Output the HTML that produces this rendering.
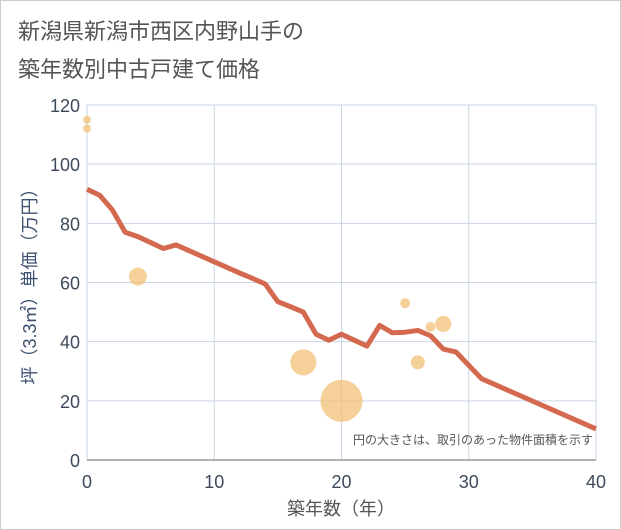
<!DOCTYPE html>
<html><head><meta charset="utf-8"><style>
body{margin:0;background:#fff;}
svg{display:block;font-family:"Liberation Sans","Noto Sans CJK JP",sans-serif;}
</style></head><body>
<svg width="621" height="530">
<rect x="0.5" y="0.5" width="620" height="529" fill="#fff" stroke="#ccc"/>
<text x="18" y="39" font-size="22" fill="#555">新潟県新潟市西区内野山手の</text>
<text x="18" y="77" font-size="22" fill="#555">築年数別中古戸建て価格</text>
<g id="grid"></g>
<g id="ticks"></g>
<g id="bubbles"></g>
<g id="line"></g>
<text x="593" y="444" font-size="12" fill="#555" text-anchor="end">円の大きさは、取引のあった物件面積を示す</text>
<text x="341" y="515" font-size="18" fill="#555" text-anchor="middle">築年数（年）</text>
<text transform="translate(36,282) rotate(-90)" font-size="18" fill="#3d5170" text-anchor="middle">坪（3.3㎡）単価（万円）</text>
</svg>
<script>
const xTicks=[0,10,20,30,40];
const yTicks=[0,20,40,60,80,100,120];
const lineX=[0,1,2,3,4,5,6,7,8,9,10,11,12,13,14,15,16,17,18,19,20,21,22,23,24,25,26,27,28,29,30,31,40];
const lineY=[91.5,89.5,84.5,77,75.5,73.5,71.5,72.7,70.8,68.9,67,65.1,63.2,61.4,59.5,53.5,51.8,50,42.5,40.5,42.5,40.5,38.5,45.5,43,43.2,43.8,42,37.5,36.5,32,27.5,10.5];
const bubX=[0,0,4,17,20,25,26,27,28];
const bubY=[115,112,62,33,20,53,33,45,46];
const bubR=[4,4,9,13,21,5,7,5,8];
const NS="http://www.w3.org/2000/svg";
const X0=87,X1=596,Y0=460,Y1=105;
const sx=v=>X0+(X1-X0)*v/40, sy=v=>Y0-(Y0-Y1)*v/120;
const grid=document.getElementById('grid'),ticks=document.getElementById('ticks');
function mk(t,a,p){const e=document.createElementNS(NS,t);for(const k in a)e.setAttribute(k,a[k]);p.appendChild(e);return e;}
xTicks.forEach(v=>{
 const l=mk('line',{x1:sx(v),x2:sx(v),y1:Y1,y2:Y0,stroke:'#c9d5e4','stroke-width':1},grid);
 
 
 const t=mk('text',{x:sx(v),y:488,'font-size':18,fill:'#3d4a5c','text-anchor':'middle'},ticks);
 t.textContent=v;
 
 
});
yTicks.forEach(v=>{
 const l=mk('line',{x1:X0,x2:X1,y1:sy(v),y2:sy(v),stroke:v===0?'#999':'#c9d5e4','stroke-width':v===0?1.5:1},grid);
 
 
 const t=mk('text',{x:80,y:sy(v)+7,'font-size':18,fill:'#3d4a5c','text-anchor':'end'},ticks);
 t.textContent=v;
 
 
});
const bg=document.getElementById('bubbles');
bubX.forEach((x,i)=>{
 const c=mk('circle',{cx:sx(x),cy:sy(bubY[i]),r:bubR[i],fill:'#f3c077','fill-opacity':0.75},bg);
 
 
});
const pts=lineX.map((x,i)=>sx(x)+','+sy(lineY[i])).join(' ');
const pl=mk('polyline',{points:pts,fill:'none',stroke:'#d4694f','stroke-width':5,'stroke-linejoin':'round'},document.getElementById('line'));


</script>
</body></html>
